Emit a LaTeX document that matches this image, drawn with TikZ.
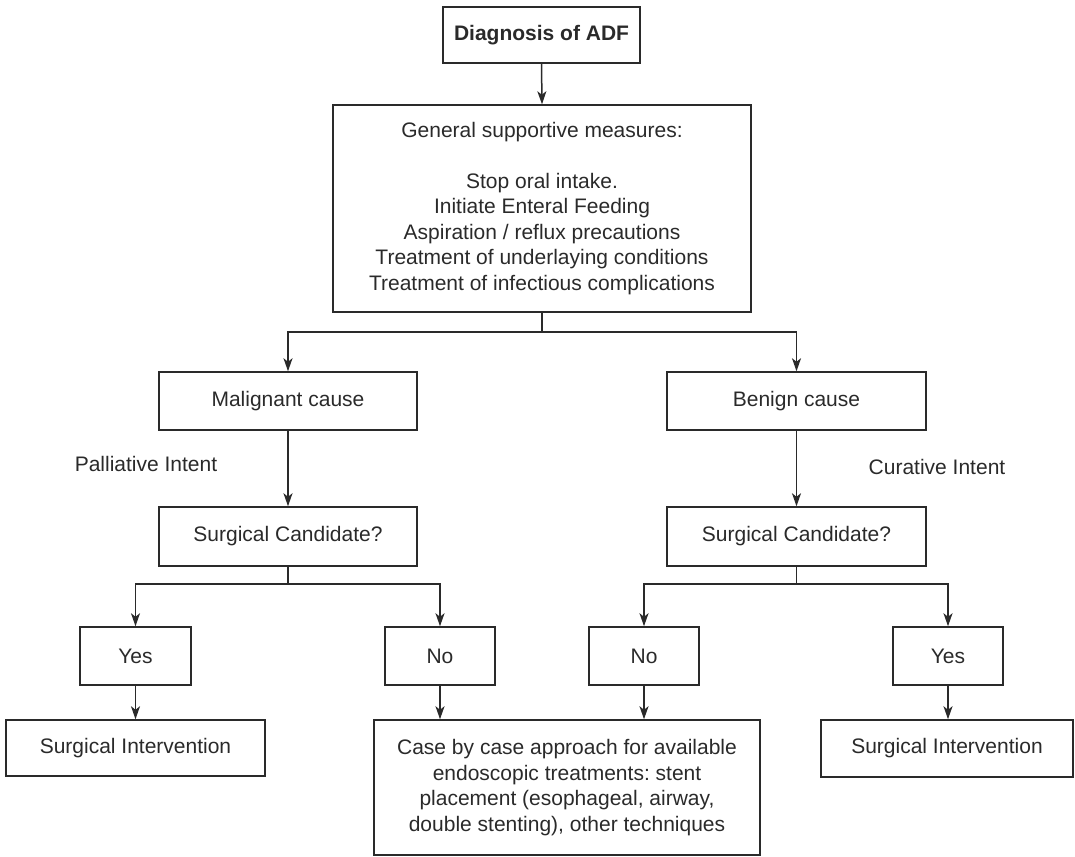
\documentclass[tikz,border=0pt]{standalone}
\usepackage{fontspec}
\setmainfont{Liberation Sans}
\usetikzlibrary{arrows.meta}
\definecolor{ink}{HTML}{2A2A2A}
\frenchspacing
\begin{document}
\begin{tikzpicture}[x=1pt,y=-1pt,
  every node/.style={font=\fontsize{21}{25.5}\selectfont, text=ink},
  bx/.style={draw=ink, line width=1.5pt, inner sep=0pt, align=center},
  conn/.style={draw=ink, line width=1.5pt},
  arr/.style={conn, -{Stealth[length=13pt,width=9pt,inset=3.5pt]}}]
\useasboundingbox (0,0) rectangle (1075,856);
% boxes
\node[bx, minimum width=197pt, minimum height=56pt, font=\fontsize{21}{25.5}\selectfont\bfseries] (diag) at (541.5,35) {Diagnosis of ADF};
\node[bx, minimum width=418pt, minimum height=207pt] (gen) at (542,208.5) {General supportive measures:\\[25.5pt]Stop oral intake.\\Initiate Enteral Feeding\\Aspiration / reflux precautions\\Treatment of underlaying conditions\\Treatment of infectious complications};
\node[bx, minimum width=258pt, minimum height=58pt] (mal) at (288,401) {Malignant cause};
\node[bx, minimum width=259pt, minimum height=58pt] (ben) at (796.5,401) {Benign cause};
\node[bx, minimum width=258pt, minimum height=59pt] (scl) at (288,536.5) {Surgical Candidate?};
\node[bx, minimum width=259pt, minimum height=59pt] (scr) at (796.5,536.5) {Surgical Candidate?};
\node[bx, minimum width=111pt, minimum height=58pt] (yesl) at (135.5,656) {Yes};
\node[bx, minimum width=110pt, minimum height=58pt] (nol) at (440,656) {No};
\node[bx, minimum width=110pt, minimum height=58pt] (nor) at (644,656) {No};
\node[bx, minimum width=110pt, minimum height=58pt] (yesr) at (948,656) {Yes};
\node[bx, minimum width=259pt, minimum height=56pt] (sil) at (135.5,748) {Surgical Intervention};
\node[bx, minimum width=252pt, minimum height=57pt] (sir) at (947,748.5) {Surgical Intervention};
\node[bx, minimum width=386pt, minimum height=135pt] (case) at (567,787.5) {Case by case approach for available\\endoscopic treatments: stent\\placement (esophageal, airway,\\double stenting), other techniques};
% labels
\node (pal) at (146,464) {Palliative Intent};
\node (cur) at (937,467) {Curative Intent};
% connectors
\draw[arr] (diag.south) -- (gen.north);
\coordinate (gj) at (542,332);
\draw[conn] (gen.south) -- (gj);
\draw[arr] (gj) -| (mal.north);
\draw[arr] (gj) -| (ben.north);
\draw[arr] (mal.south) -- (scl.north);
\draw[arr] (ben.south) -- (scr.north);
\coordinate (lj) at (288,584);
\coordinate (rj) at (796.5,584);
\draw[conn] (scl.south) -- (lj);
\draw[arr] (lj) -| (yesl.north);
\draw[arr] (lj) -| (nol.north);
\draw[conn] (scr.south) -- (rj);
\draw[arr] (rj) -| (nor.north);
\draw[arr] (rj) -| (yesr.north);
\draw[arr] (yesl.south) -- (sil.north);
\draw[arr] (nol.south) -- (nol.south |- case.north);
\draw[arr] (nor.south) -- (nor.south |- case.north);
\draw[arr] (yesr.south) -- (yesr.south |- sir.north);
\end{tikzpicture}
\end{document}
